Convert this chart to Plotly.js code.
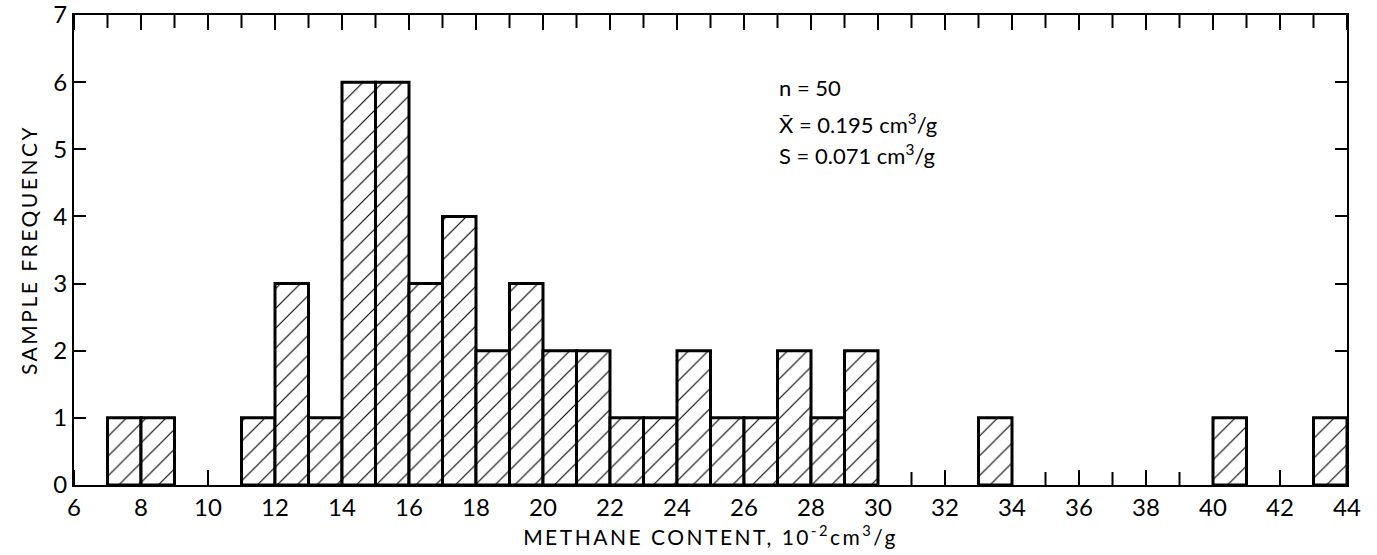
<!DOCTYPE html>
<html>
<head>
<meta charset="utf-8">
<script src="https://cdn.plot.ly/plotly-3.0.1.min.js"></script>
<style>
  html, body { margin: 0; padding: 0; background: #fff; }
  #chart { width: 1377px; height: 555px; }
</style>
</head>
<body>
<div id="chart"></div>
<script>
// Histogram bins (left edge, width 1) of methane content, 10^-2 cm3/g
var binStart = [7, 8, 11, 12, 13, 14, 15, 16, 17, 18, 19, 20, 21, 22, 23, 24, 25, 26, 27, 28, 29, 33, 40, 43];
var counts   = [1, 1, 1,  3,  1,  6,  6,  3,  4,  2,  3,  2,  2,  1,  1,  2,  1,  1,  2,  1,  2,  1,  1,  1];

var xTickVals = [6, 8, 10, 12, 14, 16, 18, 20, 22, 24, 26, 28, 30, 32, 34, 36, 38, 40, 42, 44];
var xTickText = ['6', '8', '10', '12', '14', '16', '18', '20', '22', '24', '26', '28', '30', '32', '34', '36', '38', '40', '42', '44'];
var xMinorTicks = [7, 9, 11, 13, 15, 17, 19, 21, 23, 25, 27, 29, 31, 33, 35, 37, 39, 41, 43];
var yTickVals = [0, 1, 2, 3, 4, 5, 6, 7];

var statsLines = ['n = 50', 'X\u0304 = 0.195 cm<sup>3</sup>/g', 'S = 0.071 cm<sup>3</sup>/g'];
var xTitle = '<span style="letter-spacing:2.5px">METHANE CONTENT, 10<sup>-2</sup>cm<sup>3</sup>/g</span>';
var yTitle = '<span style="letter-spacing:2.5px">SAMPLE FREQUENCY</span>';

var FONT = 'Lato, "DejaVu Sans", sans-serif';
var Y_MIN = 0, Y_MAX = 7;
var PLOT_H = 555 - 15 - 70;

var trace = {
  type: 'bar',
  x: binStart,
  y: counts,
  width: 1,
  offset: 0,
  marker: {
    color: '#ffffff',
    line: { color: '#000000', width: 3 },
    pattern: { shape: '/', fgcolor: '#000000', bgcolor: '#ffffff', size: 14, solidity: 0.08 }
  }
};

// inside tick marks of the x axis (bottom and top), built from the tick arrays
var tx = [], ty = [];
function addTicks(vals, lenPx) {
  var d = lenPx / PLOT_H * (Y_MAX - Y_MIN);
  vals.forEach(function (v) {
    tx.push(v, v, null, v, v, null);
    ty.push(Y_MIN, Y_MIN + d, null, Y_MAX, Y_MAX - d, null);
  });
}
addTicks(xTickVals, 15);
addTicks(xMinorTicks, 13);
var tickTrace = {
  type: 'scatter', mode: 'lines', x: tx, y: ty, connectgaps: false,
  line: { color: '#000000', width: 2 }, hoverinfo: 'skip', cliponaxis: false
};

var layout = {
  width: 1377,
  height: 555,
  margin: { l: 74, r: 30, t: 15, b: 70 },
  showlegend: false,
  font: { family: FONT, color: '#000000', size: 22 },
  xaxis: {
    range: [6, 44],
    tickmode: 'array',
    tickvals: xTickVals,
    ticktext: xTickText,
    ticks: 'inside',
    ticklen: 15,
    tickwidth: 2,
    tickcolor: '#000',
    showline: true,
    linecolor: '#000',
    linewidth: 2,
    mirror: 'ticks',
    showgrid: false,
    zeroline: false,
    tickfont: { family: FONT, size: 24, color: '#000' },
    title: { text: xTitle, font: { family: FONT, size: 21, color: '#000' }, standoff: 6 }
  },
  yaxis: {
    range: [Y_MIN, Y_MAX],
    tickmode: 'array',
    tickvals: yTickVals,
    ticks: 'inside',
    ticklen: 12,
    tickwidth: 2,
    tickcolor: '#000',
    showline: true,
    linecolor: '#000',
    linewidth: 2,
    mirror: 'ticks',
    showgrid: false,
    zeroline: false,
    ticklabeloverflow: 'allow',
    tickfont: { family: FONT, size: 24, color: '#000' },
    title: { text: yTitle, font: { family: FONT, size: 21, color: '#000' }, standoff: 10 }
  },
  annotations: statsLines.map(function (t, i) {
    return {
      text: t, xref: 'paper', yref: 'paper',
      x: 0.552, y: [0.845, 0.77, 0.703][i],
      xanchor: 'left', yanchor: 'middle', showarrow: false,
      font: { family: FONT, size: 22, color: '#000' }
    };
  })
};

Plotly.newPlot('chart', [trace, tickTrace], layout, { displayModeBar: false, staticPlot: true });
</script>
</body>
</html>
